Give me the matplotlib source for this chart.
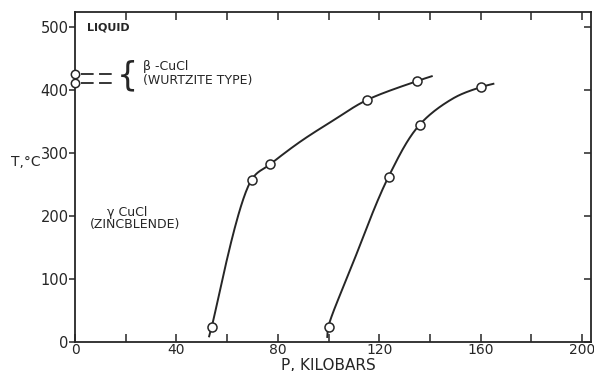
import numpy as np
import matplotlib
matplotlib.use('Agg')
import matplotlib.pyplot as plt
from matplotlib.ticker import MultipleLocator

# Виміряні точки (P у кілобарах, T у °C)
gamma_beta_p = [54, 70, 77, 115, 135]
gamma_beta_t = [24, 258, 282, 384, 415]
second_p = [100, 124, 136, 160]
second_t = [24, 262, 344, 405]

# опорні точки проведених кривих, простежені по рисунку
trace1_p = [52.9, 53.9, 69.7, 76.9, 88.8, 101.9, 115, 135.4, 140.7]
trace1_t = [9, 24, 258, 282, 318, 352, 384, 415, 422]
trace2_p = [99.5, 99.9, 109.1, 123.6, 135.7, 149.2, 160.3, 165]
trace2_t = [8, 24, 120, 262, 344, 387, 405, 410]

# точки при P = 0: перехід γ-β та плавлення
zero_p_t = [426, 411]

ink = '#262626'

fig = plt.figure(figsize=(5.94, 3.71), dpi=100)
ax = fig.add_axes([75 / 594, 29 / 371, 516 / 594, 330 / 371])
ax.set_xlim(0, 203.5)
ax.set_ylim(0, 524)


def catmull_rom(pts, n=40):
    # центрипетальний сплайн Кетмулла-Рома через опорні точки
    pts = np.asarray(pts, float)
    ext = np.vstack([2 * pts[0] - pts[1], pts, 2 * pts[-1] - pts[-2]])
    out = []
    for i in range(1, len(ext) - 2):
        p0, p1, p2, p3 = ext[i - 1:i + 3]
        t0 = 0.0
        t1 = t0 + np.linalg.norm(p1 - p0) ** 0.5
        t2 = t1 + np.linalg.norm(p2 - p1) ** 0.5
        t3 = t2 + np.linalg.norm(p3 - p2) ** 0.5
        t = np.linspace(t1, t2, n)[:, None]
        a1 = (t1 - t) / (t1 - t0) * p0 + (t - t0) / (t1 - t0) * p1
        a2 = (t2 - t) / (t2 - t1) * p1 + (t - t1) / (t2 - t1) * p2
        a3 = (t3 - t) / (t3 - t2) * p2 + (t - t2) / (t3 - t2) * p3
        b1 = (t2 - t) / (t2 - t0) * a1 + (t - t0) / (t2 - t0) * a2
        b2 = (t3 - t) / (t3 - t1) * a2 + (t - t1) / (t3 - t1) * a3
        out.append((t2 - t) / (t2 - t1) * b1 + (t - t1) / (t2 - t1) * b2)
    return np.vstack(out)


def smooth_trace(p, t):
    # згладжуємо в екранних координатах, щоб масштаби осей не спотворювали криву
    disp = ax.transData.transform(np.column_stack([p, t]))
    return ax.transData.inverted().transform(catmull_rom(disp))


for tp, tt, mp, mt in [(trace1_p, trace1_t, gamma_beta_p, gamma_beta_t),
                       (trace2_p, trace2_t, second_p, second_t)]:
    curve = smooth_trace(tp, tt)
    ax.plot(curve[:, 0], curve[:, 1], color=ink, lw=1.4, zorder=2)
    ax.plot(mp, mt, 'o', ms=6.5, mfc='white', mec=ink, mew=1.1, zorder=3)

for t in zero_p_t:
    ax.plot([2.2, 14.5], [t, t], color=ink, lw=1.3, dashes=(7, 3), zorder=2)
ax.plot([0, 0], zero_p_t, 'o', ms=6, mfc='white', mec=ink, mew=1.1,
        zorder=4, clip_on=False)

# рамка і поділки
for s in ax.spines.values():
    s.set_color(ink)
    s.set_linewidth(1.3)

ax.xaxis.set_major_locator(MultipleLocator(40))
ax.xaxis.set_minor_locator(MultipleLocator(20))
ax.yaxis.set_major_locator(MultipleLocator(100))
ax.tick_params(axis='x', which='both', direction='in', top=True, bottom=True,
               length=6, width=1.1, color=ink, labelsize=10, labelcolor=ink, pad=1)
ax.tick_params(axis='y', which='both', direction='out', left=True, right=False,
               length=4, width=1.1, color=ink, labelsize=10.5, labelcolor=ink, pad=0.5)

ax_r = ax.secondary_yaxis('right')
ax_r.yaxis.set_major_locator(MultipleLocator(100))
ax_r.tick_params(direction='in', length=5, width=1.1, color=ink, labelright=False)
ax_r.spines['right'].set_visible(False)

# підписи
ax.text(4.7, 500, 'LIQUID', fontsize=8, fontweight='bold', color=ink, va='center')
ax.text(20.5, 423, '{', fontsize=24, color=ink, va='center', ha='center')
ax.text(26.8, 438, 'β -CuCl', fontsize=9, color=ink, va='center')
ax.text(26.8, 416, '(WURTZITE TYPE)', fontsize=9, color=ink, va='center')
ax.text(12.6, 206, 'γ CuCl', fontsize=9, color=ink, va='center')
ax.text(5.9, 186, '(ZINCBLENDE)', fontsize=9, color=ink, va='center')

fig.text(328 / 594, 6 / 371, 'P, KILOBARS', fontsize=11, color=ink,
         ha='center', va='center')
fig.text(26 / 594, (371 - 162) / 371, 'T,°C', fontsize=10, color=ink,
         ha='center', va='center')

fig.savefig('out.png', dpi=100, facecolor='white')
